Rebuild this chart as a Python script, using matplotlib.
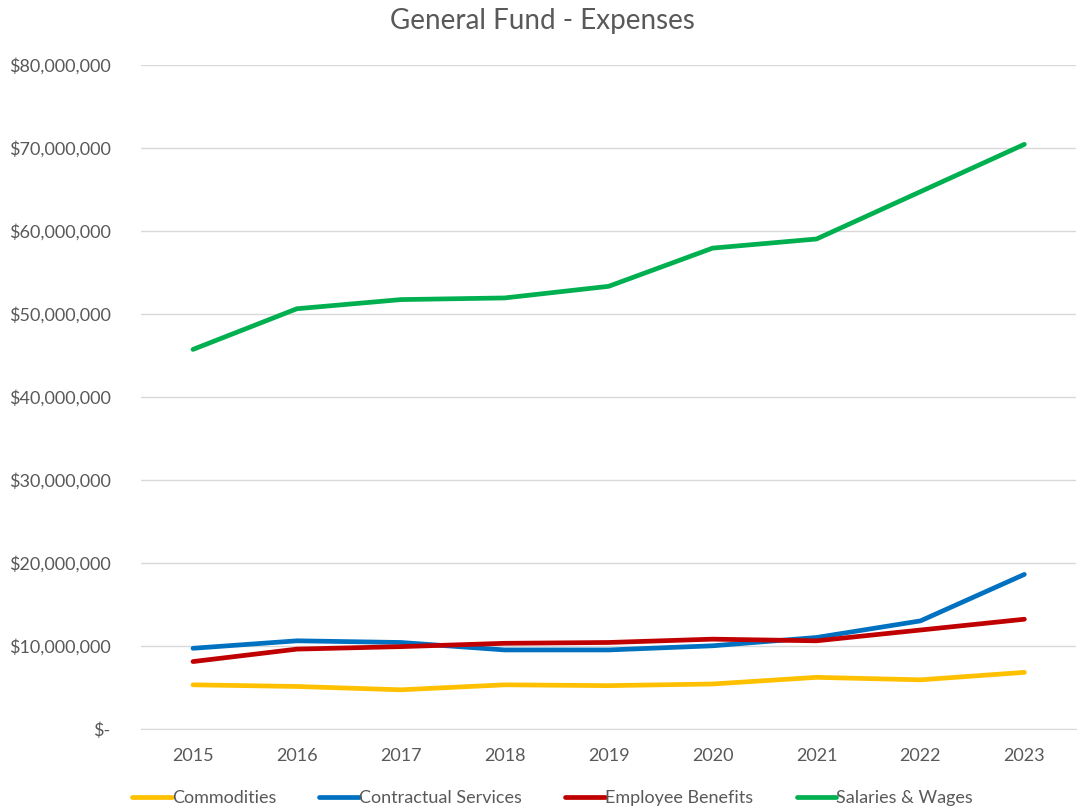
import matplotlib.pyplot as plt
from matplotlib.ticker import FuncFormatter

years = ['2015', '2016', '2017', '2018', '2019', '2020', '2021', '2022', '2023']
commodities = [5.3e6, 5.1e6, 4.7e6, 5.3e6, 5.2e6, 5.4e6, 6.2e6, 5.9e6, 6.8e6]
contractual = [9.7e6, 10.6e6, 10.4e6, 9.5e6, 9.5e6, 10.0e6, 11.0e6, 13.0e6, 18.6e6]
benefits = [8.1e6, 9.6e6, 9.9e6, 10.3e6, 10.4e6, 10.8e6, 10.6e6, 11.9e6, 13.2e6]
salaries = [45.7e6, 50.6e6, 51.7e6, 51.9e6, 53.3e6, 57.9e6, 59.0e6, 64.7e6, 70.4e6]

plt.rcParams['font.family'] = ['Lato', 'DejaVu Sans']
grey = '#595959'

fig = plt.figure(figsize=(10.85, 8.08), dpi=100)
ax = fig.add_axes([0.130, 0.098, 0.862, 0.822])

x = range(len(years))
ax.plot(x, commodities, color='#FFC000', lw=3.4, label='Commodities', solid_capstyle='round')
ax.plot(x, contractual, color='#0070C0', lw=3.4, label='Contractual Services', solid_capstyle='round')
ax.plot(x, benefits, color='#C00000', lw=3.4, label='Employee Benefits', solid_capstyle='round')
ax.plot(x, salaries, color='#00B050', lw=3.4, label='Salaries & Wages', solid_capstyle='round')

ax.set_xlim(-0.5, len(years) - 0.5)
ax.set_ylim(0, 80e6)
ax.set_yticks([i * 10e6 for i in range(9)])
ax.yaxis.set_major_formatter(FuncFormatter(lambda v, p: '$-' if v == 0 else f'${v:,.0f}'))
ax.set_xticks(list(x))
ax.set_xticklabels(years)
ax.grid(axis='y', color='#D9D9D9', lw=1)
ax.set_axisbelow(True)
for s in ['top', 'right', 'left']:
    ax.spines[s].set_visible(False)
ax.spines['bottom'].set_color('#D9D9D9')
ax.tick_params(length=0, labelsize=13, colors=grey, pad=14)
ax.tick_params(axis='y', pad=22)

fig.suptitle('General Fund - Expenses', fontsize=20, color=grey, y=0.99)
ax.legend(loc='upper center', bbox_to_anchor=(0.44, -0.068), ncol=4, frameon=False,
          fontsize=13, labelcolor=grey, handlelength=2.2, handletextpad=0.0, columnspacing=2.4)

fig.savefig('out.png')
